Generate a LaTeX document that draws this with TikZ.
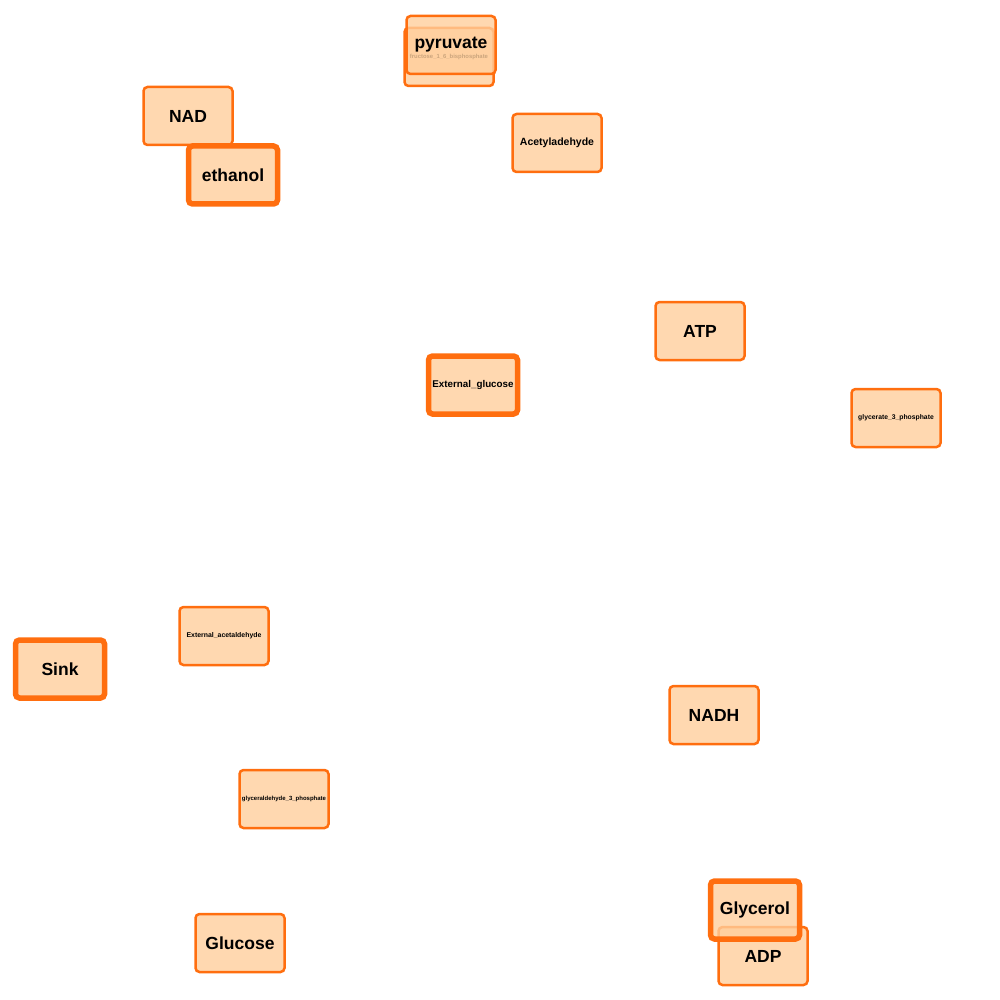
\documentclass[tikz,border=0pt]{standalone}
\usepackage{fontspec}
\setmainfont{Liberation Sans}
\definecolor{speciesfill}{RGB}{255,206,156}
\definecolor{speciesline}{RGB}{255,110,15}
\newcommand{\labelsize}[1]{\bfseries\fontsize{#1}{#1}\selectfont}
\begin{document}
\begin{tikzpicture}[x=0.5pt,y=-0.5pt,
        every node/.style={rectangle,rounded corners=2pt,draw=speciesline,fill=speciesfill,fill opacity=0.8,text opacity=1,
            line width=1.25pt,inner sep=0pt,minimum width=44.5pt,minimum height=29pt,font=\labelsize{8.75}},
        boundary/.style={line width=2.75pt}]
        \useasboundingbox (0,0) rectangle (1000,1000);
        % top
        \node (fbp) at (449,57) [font=\labelsize{2.95}] {fructose\_1\_6\_bisphosphate};
        \node (pyruvate) at (451,45) {pyruvate};
        \node (nad) at (188,116) {NAD};
        \node (ethanol) at (233,175) [boundary] {ethanol};
        \node (acetaldehyde) at (557,143) [font=\labelsize{5.25}] {Acetyladehyde};
        % middle
        \node (atp) at (700,331) {ATP};
        \node (extglucose) at (473,385) [boundary,font=\labelsize{4.9}] {External\_glucose};
        \node (g3p) at (896,418) [font=\labelsize{3.4}] {glycerate\_3\_phosphate};
        \node (extacetaldehyde) at (224,636) [font=\labelsize{3.45}] {External\_acetaldehyde};
        \node (sink) at (60,669) [boundary] {Sink};
        \node (nadh) at (714,715) {NADH};
        % bottom
        \node (gap) at (284,799) [font=\labelsize{3}] {glyceraldehyde\_3\_phosphate};
        \node (glucose) at (240,943) {Glucose};
        \node (adp) at (763,956) {ADP};
        \node (glycerol) at (755,910) [boundary] {Glycerol};
\end{tikzpicture}
\end{document}
